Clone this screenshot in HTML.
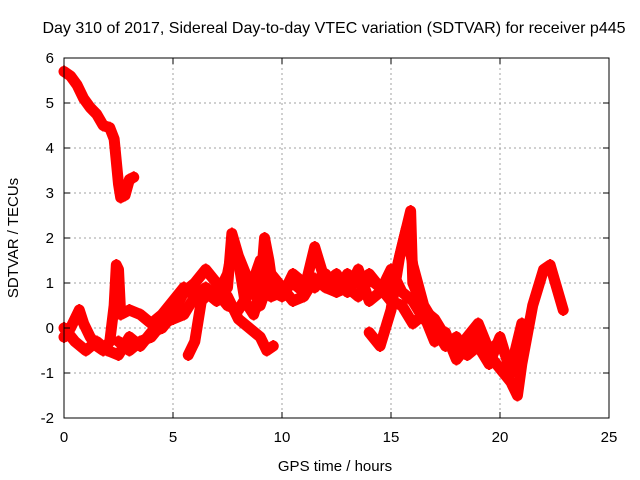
<!DOCTYPE html>
<html><head><meta charset="utf-8"><style>
body{margin:0;background:#fff}
svg{display:block;font-family:"Liberation Sans",sans-serif}
</style></head><body>
<svg id="chart" width="640" height="480" viewBox="0 0 640 480">
<text x="334" y="33" font-size="16" text-anchor="middle">Day 310 of 2017, Sidereal Day-to-day VTEC variation (SDTVAR) for receiver p445</text>
<text x="335" y="471" font-size="15" text-anchor="middle">GPS time / hours</text>
<text x="18" y="238" font-size="15" text-anchor="middle" transform="rotate(-90 18 238)">SDTVAR / TECUs</text>
<g id="grid"></g><g id="series"></g><g id="axes"></g>
</svg>
<script>
const xTicks=[0,5,10,15,20,25];
const yTicks=[-2,-1,0,1,2,3,4,5,6];
const trackA=[[0,5.7],[0.3,5.6],[0.6,5.4],[0.9,5.1],[1.2,4.9],[1.5,4.75],[1.8,4.5],[2.1,4.45],[2.3,4.2],[2.4,3.7],[2.5,3.2],[2.6,2.9],[2.8,2.95],[3.0,3.3],[3.2,3.35]];
const trackB=[[0,-0.2],[0.3,0],[0.5,0.2],[0.7,0.4],[0.9,0.1],[1.2,-0.2],[1.5,-0.4],[1.8,-0.5],[2.1,-0.3],[2.3,0.5],[2.4,1.4],[2.5,1.3],[2.6,0.3],[3,0.4],[3.5,0.3],[4,0.1],[4.5,0.3],[5,0.6],[5.5,0.9],[6,0.7],[6.5,0.9],[7,0.7],[7.5,1.2],[7.7,1.7],[8,1.5],[8.3,0.6],[8.7,0.3],[9,0.8],[9.2,2.0],[9.4,1.5],[9.6,0.8],[10,0.7],[10.5,1.2],[11,1.0],[11.5,0.9],[12,1.2],[12.5,0.8],[13,1.2],[13.5,1.0],[14,1.2],[14.5,0.9],[15,0.6],[15.5,0.5],[16,0.1],[16.5,0.3],[17,-0.3],[17.5,-0.1],[18,-0.7],[18.5,-0.4],[19,-0.1],[19.5,-0.6],[20,-0.9],[20.5,-1.2],[20.8,-1.5],[21,-0.8],[21.5,0.5],[22,1.3],[22.3,1.4],[22.6,0.9],[22.9,0.4]];
const trackC=[[0,0],[0.5,-0.3],[1,-0.5],[1.5,-0.3],[2,-0.5],[2.5,-0.6],[3,-0.2],[3.5,-0.4],[4,-0.1],[4.5,0.0],[5,0.3],[5.5,0.8],[6,1.0],[6.5,1.3],[7,1.0],[7.5,0.7],[8,0.2],[8.5,0.0],[9,-0.2],[9.3,-0.5],[9.6,-0.4]];
const trackD=[[2.5,-0.3],[3,-0.5],[3.5,-0.3],[4,-0.2],[4.5,0.1],[5,0.2],[5.5,0.3],[6,0.7],[6.5,0.8],[7,0.6],[7.5,0.9],[7.7,2.1],[8,1.6],[8.5,1.0],[9,0.5],[9.5,1.2],[10,0.9],[10.5,0.6],[11,0.7],[11.5,1.1],[12,0.9],[12.5,0.8],[13,0.9],[13.5,0.7],[14,1.1],[14.5,0.9],[15,0.7],[15.3,1.4],[15.6,2.0],[15.9,2.6],[16,1.0],[16.5,0.4],[17,0.2],[17.5,-0.2],[18,-0.5],[18.5,-0.2],[19,0.1],[19.5,-0.5],[20,-0.3],[20.5,-0.9],[21,0.1]];
const trackE=[[5.7,-0.6],[6,-0.3],[6.3,0.6],[6.5,0.7],[7,0.8],[7.5,0.5],[8,0.4],[8.5,0.8],[9,1.5],[9.5,0.7],[10,0.8],[10.5,1.0],[11,0.8],[11.5,1.8],[12,1.0],[12.5,1.2],[13,0.8],[13.5,1.3],[14,0.6],[14.5,0.8],[15,1.3],[15.5,0.8],[16,0.6],[16.5,0.2],[17,0.0],[17.5,-0.4],[18,-0.2],[18.5,-0.6],[19,-0.4],[19.5,-0.8],[20,-0.2],[20.5,-1.0]];
const trackF=[[14,-0.1],[14.5,-0.4],[15,0.4],[15.4,1.6],[15.7,2.2],[16,1.4],[16.5,0.5],[17,0.1]];
const tracks=[trackA,trackB,trackC,trackD,trackE,trackF];
const L=64,R=609,T=58,B=418;
const X=v=>L+(v-0)/(25-0)*(R-L);
const Y=v=>B-(v+2)/8*(B-T);
const NS='http://www.w3.org/2000/svg';
function mk(t,a,p){const e=document.createElementNS(NS,t);for(const k in a)e.setAttribute(k,a[k]);p.appendChild(e);return e;}
const grid=document.getElementById('grid'),axes=document.getElementById('axes'),ser=document.getElementById('series');
xTicks.forEach(v=>{
 if(v>0&&v<25){const g=mk('line',{x1:X(v),x2:X(v),y1:T,y2:B,stroke:'#a0a0a0','stroke-dasharray':'2,3'},grid);
 
 }
 mk('line',{x1:X(v),x2:X(v),y1:B,y2:B-6,stroke:'#000'},axes);
 mk('line',{x1:X(v),x2:X(v),y1:T,y2:T+6,stroke:'#000'},axes);
 const t=mk('text',{x:X(v),y:B+24,'font-size':15,'text-anchor':'middle'},axes);t.textContent=v;
 
 
});
yTicks.forEach(v=>{
 if(v>-2&&v<6){const g=mk('line',{x1:L,x2:R,y1:Y(v),y2:Y(v),stroke:'#a0a0a0','stroke-dasharray':'2,3'},grid);
 
 }
 mk('line',{x1:L,x2:L+6,y1:Y(v),y2:Y(v),stroke:'#000'},axes);
 mk('line',{x1:R,x2:R-6,y1:Y(v),y2:Y(v),stroke:'#000'},axes);
 const t=mk('text',{x:L-10,y:Y(v)+5,'font-size':15,'text-anchor':'end'},axes);t.textContent=v;
 
 
});
const fr=mk('rect',{x:L,y:T,width:R-L,height:B-T,fill:'none',stroke:'#000'},axes);


tracks.forEach((tr,i)=>{
 const p=mk('polyline',{points:tr.map(d=>X(d[0])+','+Y(d[1])).join(' '),fill:'none',stroke:'#ff0000','stroke-width':11,'stroke-linejoin':'round','stroke-linecap':'round'},ser);
 
 
 tr.forEach(d=>{
  const m=mk('path',{d:`M${X(d[0])-5},${Y(d[1])}h10M${X(d[0])},${Y(d[1])-6}v12`,stroke:'#ff0000','stroke-width':2},ser);
  
  
 });
});
</script>
</body></html>
